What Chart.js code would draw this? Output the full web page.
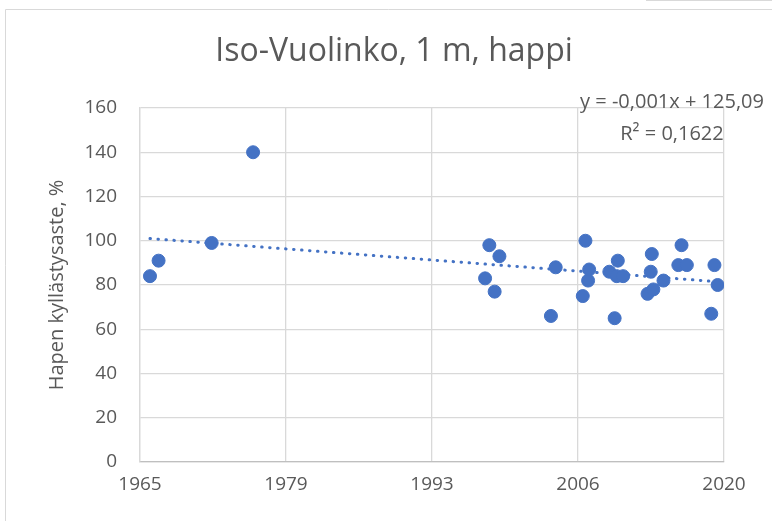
<!DOCTYPE html>
<html>
<head>
<meta charset="utf-8">
<script src="https://cdn.jsdelivr.net/npm/chart.js@4"></script>
<style>
html, body { margin: 0; background: #fff; }
</style>
</head>
<body>
<canvas id="kaavio" width="772" height="521"></canvas>
<script>
// mittaukset: vuosi (desimaali) ja hapen kyllästysaste %
const vuodet = [1965.94, 1966.75, 1971.75, 1975.65, 1997.5, 1997.9, 1998.4, 1998.85, 2003.7, 2004.15,
    2006.7, 2006.95, 2007.2, 2007.3, 2009.2, 2009.7, 2010.0, 2009.9, 2010.5, 2012.8,
    2013.1, 2013.2, 2013.35, 2014.3, 2015.7, 2016.0, 2016.5, 2018.8, 2019.1, 2019.4];
const happi = [84, 91, 99, 140, 83, 98, 77, 93, 66, 88,
    75, 100, 82, 87, 86, 65, 91, 84, 84, 76,
    86, 94, 78, 82, 89, 98, 89, 67, 89, 80];

const xTicks = [1965, 1978.75, 1992.5, 2006.25, 2020];
const xTickLabels = ["1965", "1979", "1993", "2006", "2020"];
const yTicks = [0, 20, 40, 60, 80, 100, 120, 140, 160];

// Excelin trendiviiva (x = päivämäärän sarjanumero)
const trendSlope = -0.001;
const trendIntercept = 125.09;
const trendText = ["y = -0,001x + 125,09", "R² = 0,1622"];

const otsikko = "Iso-Vuolinko, 1 m, happi";
const yOtsikko = "Hapen kyllästysaste, %";

const fontti = "'Open Sans', sans-serif";
const harmaa = "#595959";
const sininen = "#4472C4";

const sarjanumero = v => (v - 1900) * 365.25 + 1;
const xMin = Math.min(...vuodet);
const xMax = Math.max(...vuodet);
const trendi = [xMin, xMax].map(v => ({ x: v, y: trendIntercept + trendSlope * sarjanumero(v) }));

const koristeet = {
    id: "koristeet",
    afterDraw(chart) {
        const ctx = chart.ctx;
        ctx.save();
        ctx.strokeStyle = "#d9d9d9";
        ctx.lineWidth = 1;
        ctx.beginPath();
        ctx.moveTo(5.5, 530);
        ctx.lineTo(5.5, 9.5);
        ctx.lineTo(772, 9.5);
        ctx.moveTo(646, 0.5);
        ctx.lineTo(772, 0.5);
        ctx.stroke();

        ctx.fillStyle = harmaa;
        ctx.textAlign = "center";
        ctx.textBaseline = "alphabetic";
        ctx.font = "32px " + fontti;
        ctx.fillText(otsikko, 394, 61);

        ctx.font = "20px " + fontti;
        ctx.fillText(trendText[0], 672, 108);
        ctx.fillText(trendText[1], 672, 140);
        ctx.restore();
    }
};

new Chart(document.getElementById("kaavio"), {
    type: "scatter",
    data: {
        datasets: [{
            data: vuodet.map((v, i) => ({ x: v, y: happi[i] })),
            backgroundColor: sininen,
            borderColor: sininen,
            borderWidth: 1,
            pointRadius: 6.5,
            pointHoverRadius: 6.5
        }, {
            type: "line",
            data: trendi,
            borderColor: sininen,
            borderWidth: 3,
            borderDash: [0.5, 7.5],
            borderCapStyle: "round",
            pointRadius: 0,
            fill: false
        }]
    },
    plugins: [koristeet],
    options: {
        responsive: false,
        animation: false,
        layout: { padding: { left: 45, right: 48, top: 108, bottom: 0 } },
        plugins: { legend: { display: false }, tooltip: { enabled: false } },
        scales: {
            x: {
                type: "linear",
                min: 1965,
                max: 2020,
                afterBuildTicks: s => { s.ticks = xTicks.map(v => ({ value: v })); },
                afterFit: s => { s.height = 59; },
                ticks: {
                    callback: (v, i) => xTickLabels[i],
                    font: { family: fontti, size: 19 },
                    color: harmaa,
                    padding: 11,
                    maxRotation: 0
                },
                grid: { color: "#d9d9d9", lineWidth: 1.3, drawTicks: false },
                border: { color: "#bfbfbf", width: 1.3 }
            },
            y: {
                min: 0,
                max: 160,
                afterBuildTicks: s => { s.ticks = yTicks.map(v => ({ value: v })); },
                afterFit: s => { s.width = 95; },
                ticks: {
                    font: { family: fontti, size: 19 },
                    color: harmaa,
                    padding: 23
                },
                grid: { color: "#d9d9d9", lineWidth: 1.3, drawTicks: false },
                border: { color: "#d9d9d9", width: 1.3 },
                title: {
                    display: true,
                    text: yOtsikko,
                    font: { family: fontti, size: 20 },
                    color: harmaa,
                    padding: 0
                }
            }
        }
    }
});
</script>
</body>
</html>
